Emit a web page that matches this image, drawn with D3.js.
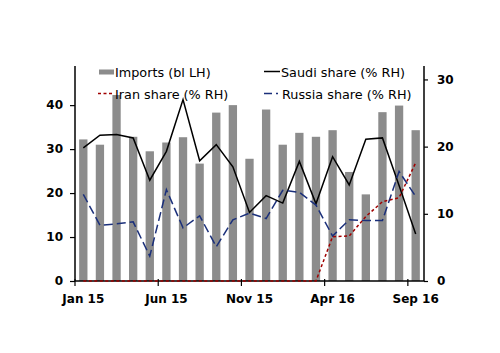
<!DOCTYPE html>
<html><head><meta charset="utf-8">
<script src="https://cdn.jsdelivr.net/npm/d3@7"></script>
<style>body{margin:0;background:#fff}svg text{font-family:"DejaVu Sans",Verdana,sans-serif}</style>
</head><body><svg id="c" width="500" height="353"></svg>
<script>
const months = ["Jan 15","Feb 15","Mar 15","Apr 15","May 15","Jun 15","Jul 15","Aug 15","Sep 15","Oct 15","Nov 15","Dec 15","Jan 16","Feb 16","Mar 16","Apr 16","May 16","Jun 16","Jul 16","Aug 16","Sep 16"];
const tickLabels = ["Jan 15","Jun 15","Nov 15","Apr 16","Sep 16"];
const imports = [32.2,31.0,42.3,32.8,29.5,31.5,32.7,26.7,38.3,40.0,27.8,39.0,31.0,33.7,32.8,34.3,24.8,19.7,38.4,39.9,34.3];
const saudi = [19.8,21.7,21.8,21.3,15.0,19.3,27.0,17.9,20.3,17.0,10.2,12.7,11.6,17.8,11.5,18.5,14.3,21.1,21.3,14.2,7.0];
const iran = [0,0,0,0,0,0,0,0,0,0,0,0,0,0,0,6.6,6.7,9.6,11.8,12.4,17.6];
const russia = [12.9,8.3,8.5,8.8,3.7,13.6,7.9,9.7,5.1,9.1,10.1,9.3,13.5,13.2,11.3,6.7,9.1,9.0,9.0,16.3,12.6];
const leftTicks = [0,10,20,30,40];
const rightTicks = [0,10,20,30];

const svg = d3.select("#c");
const x0 = 75, x1 = 424, yTop = 66, yBot = 281;
const x = d3.scaleBand().domain(months).range([x0, x1]).paddingInner(0.5).paddingOuter(0.25);
const yl = d3.scaleLinear().domain([0, 48.9]).range([yBot, yTop]);
const yr = d3.scaleLinear().domain([0, 32]).range([yBot, yTop]);
const cx = d => x(d) + x.bandwidth()/2;

svg.append("g").selectAll("rect").data(months).join("rect")
  .attr("x", d => x(d)).attr("width", x.bandwidth())
  .attr("y", (d,i) => yl(imports[i])).attr("height", (d,i) => yBot - yl(imports[i]))
  .attr("fill", "#8c8c8c");

const line = d3.line().x((d,i) => cx(months[i])).y(d => yr(d));
svg.append("path").datum(saudi).attr("d", line).attr("fill","none").attr("stroke","#000").attr("stroke-width",1.5);
svg.append("path").datum(russia).attr("d", line).attr("fill","none").attr("stroke","#1a2f7a").attr("stroke-width",1.5).attr("stroke-dasharray","9,4");

// axes
const xAxisScale = d3.scalePoint().domain(d3.range(22)).range([x0 - 0.5, x1]);
svg.append("g").attr("transform",`translate(0,${yBot})`)
  .call(d3.axisBottom(xAxisScale).tickValues([0,5,10,15,20]).tickSize(5).tickFormat(""))
  .call(g => g.select(".domain").attr("stroke-width",1.5).attr("d",`M${x0},0H${x1}`))
  .call(g => g.selectAll(".tick line").attr("stroke-width",1.2).attr("y1",-2));

svg.append("path").datum(iran).attr("d", line).attr("fill","none").attr("stroke","#a00000").attr("stroke-width",1.5).attr("stroke-dasharray","3,2.5");

svg.append("g").selectAll("text").data(tickLabels).join("text")
  .attr("x", d => cx(d)).attr("y", 303).attr("text-anchor","middle")
  .attr("font-size",12).attr("font-weight","bold").text(d => d);

svg.append("g").attr("transform",`translate(${x0},0)`)
  .call(d3.axisLeft(yl).tickValues(leftTicks).tickSize(5).tickPadding(7))
  .call(g => g.select(".domain").attr("stroke-width",1.5).attr("d",`M0,${yTop}V${yBot}`))
  .call(g => g.selectAll(".tick line").attr("stroke-width",1.2))
  .call(g => g.selectAll("text").attr("font-size",12).attr("font-weight","bold").attr("fill","#000"));

svg.append("g").attr("transform",`translate(${x1},0)`)
  .call(d3.axisRight(yr).tickValues(rightTicks).tickSize(4).tickPadding(9))
  .call(g => g.select(".domain").attr("stroke-width",1.5).attr("d",`M0,${yTop}V${yBot}`))
  .call(g => g.selectAll(".tick line").attr("stroke-width",1.2))
  .call(g => g.selectAll("text").attr("font-size",12).attr("font-weight","bold").attr("fill","#000"));

// legend
const lg = svg.append("g").attr("font-size",12.8);
lg.append("rect").attr("x",99).attr("y",69.5).attr("width",15).attr("height",5).attr("fill","#8c8c8c");
lg.append("text").attr("x",115).attr("y",76.5).text("Imports (bl LH)");
lg.append("line").attr("x1",264).attr("x2",280).attr("y1",71.5).attr("y2",71.5).attr("stroke","#000").attr("stroke-width",1.5);
lg.append("text").attr("x",281).attr("y",76.5).text("Saudi share (% RH)");
lg.append("line").attr("x1",98).attr("x2",114).attr("y1",93.5).attr("y2",93.5).attr("stroke","#a00000").attr("stroke-width",1.5).attr("stroke-dasharray","3,2.5");
lg.append("text").attr("x",115).attr("y",98.5).text("Iran share (% RH)");
lg.append("line").attr("x1",264).attr("x2",282).attr("y1",93.5).attr("y2",93.5).attr("stroke","#1a2f7a").attr("stroke-width",1.5).attr("stroke-dasharray","8,4,2,4");
lg.append("text").attr("x",282).attr("y",98.5).text("Russia share (% RH)");
</script></body></html>
